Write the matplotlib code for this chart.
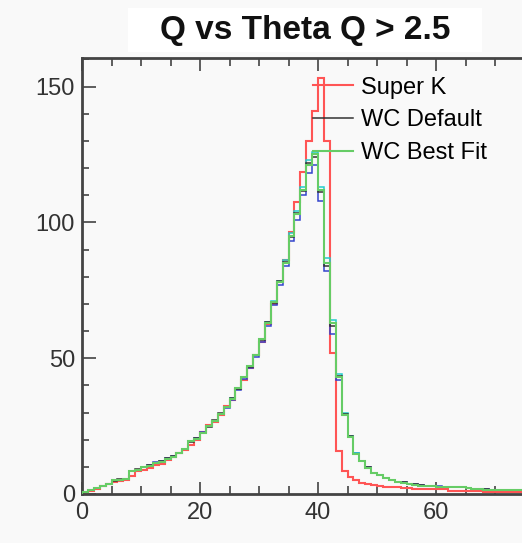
import numpy as np
import matplotlib.pyplot as plt
from matplotlib.patches import Rectangle
from matplotlib.ticker import MultipleLocator

plt.rcParams['font.family'] = ['Liberation Sans', 'DejaVu Sans']

# bin edges 0..80, width 1
edges = np.arange(0, 81, 1)

super_k = [0.5, 1.2, 2.0, 3.0, 3.8, 4.5, 4.8, 5.2, 6.5, 8.5,
           9.0, 9.5, 10.5, 11.0, 12.5, 13.5, 15.0, 16.2, 18.0, 20.0,
           23.0, 25.5, 26.5, 29.0, 32.5, 34.5, 38.5, 42.0, 46.5, 51.0,
           56.0, 62.5, 70.0, 78.0, 86.0, 96.5, 107.5, 118.5, 130.0, 141.0,
           153.0, 130.0, 52.0, 16.0, 8.6, 6.4, 5.2, 4.2, 3.6, 3.2,
           2.8, 2.7, 2.6, 2.5, 2.3, 2.1, 2.0, 2.0, 1.9, 1.9,
           1.8, 1.8, 1.2, 1.2, 1.2, 1.1, 1.1, 1.0, 0.8, 0.8,
           0.7, 0.7, 0.6, 0.6, 0.6, 0.5, 0.5, 0.5, 0.4, 0.4]

wc_best = [0.8, 1.5, 2.2, 2.8, 3.5, 5.0, 5.3, 5.6, 8.5, 9.0,
           9.8, 10.3, 11.3, 11.8, 13.0, 13.8, 15.0, 16.5, 19.5, 20.3,
           22.5, 25.0, 27.0, 29.5, 32.0, 35.0, 39.0, 43.0, 47.0, 51.0,
           57.0, 63.0, 70.5, 78.0, 85.0, 94.8, 103.0, 112.0, 121.0, 125.0,
           112.0, 85.0, 63.0, 43.0, 29.0, 21.0, 14.7, 12.0, 9.6, 7.7,
           7.0, 5.8, 5.2, 4.5, 4.2, 3.7, 3.4, 3.1, 2.9, 2.8,
           2.7, 2.6, 2.6, 2.5, 2.4, 2.1, 2.0, 1.9, 1.6, 1.5,
           1.5, 1.4, 1.4, 1.3, 1.3, 1.2, 1.2, 1.1, 1.1, 1.0]

wc_default = [0.7, 1.4, 2.3, 2.9, 3.6, 4.9, 5.4, 5.7, 8.3, 9.1,
              9.9, 10.6, 11.5, 12.0, 13.2, 13.9, 15.2, 16.4, 19.3, 20.5,
              22.6, 24.8, 27.2, 29.7, 32.2, 35.2, 38.8, 43.2, 46.8, 51.2,
              56.8, 63.2, 70.2, 78.3, 85.4, 94.5, 103.5, 111.5, 122.0, 124.0,
              111.0, 84.0, 62.0, 43.5, 29.5, 21.5, 14.9, 12.2, 9.8, 7.9,
              7.1, 6.0, 5.3, 4.6, 4.3, 3.8, 3.5, 3.2, 3.0, 2.8,
              2.7, 2.7, 2.6, 2.5, 2.4, 2.2, 2.0, 1.9, 1.7, 1.6,
              1.5, 1.5, 1.4, 1.3, 1.3, 1.2, 1.2, 1.2, 1.1, 1.0]

wc_blue = [0.8, 1.5, 2.2, 2.8, 3.6, 5.0, 5.3, 5.7, 8.4, 9.0,
           10.0, 10.6, 11.6, 12.2, 13.4, 14.0, 15.2, 16.6, 19.6, 20.6,
           22.8, 25.0, 27.0, 29.4, 31.8, 34.6, 38.4, 42.4, 46.4, 50.4,
           56.0, 62.0, 69.5, 77.0, 84.0, 93.0, 101.0, 110.0, 118.0, 121.0,
           108.0, 82.0, 59.0, 42.0, 29.0, 21.0, 15.0, 12.2, 9.8, 7.9,
           7.1, 5.9, 5.3, 4.6, 4.3, 3.8, 3.5, 3.2, 3.0, 2.9,
           2.8, 2.7, 2.6, 2.5, 2.4, 2.2, 2.0, 1.9, 1.7, 1.6,
           1.5, 1.5, 1.4, 1.4, 1.3, 1.3, 1.2, 1.2, 1.1, 1.1]

wc_cyan = [0.8, 1.5, 2.2, 2.8, 3.5, 5.0, 5.3, 5.6, 8.6, 9.0,
           9.8, 10.4, 11.3, 11.9, 13.0, 13.8, 15.0, 16.6, 19.6, 20.3,
           22.5, 25.0, 27.0, 29.6, 32.0, 35.4, 39.2, 43.2, 47.2, 51.2,
           57.2, 63.4, 71.0, 78.5, 86.0, 96.0, 104.0, 113.0, 123.0, 126.0,
           113.0, 87.0, 64.0, 44.0, 30.0, 21.2, 15.0, 12.1, 9.7, 7.8,
           7.0, 5.9, 5.2, 4.5, 4.2, 3.7, 3.4, 3.1, 2.9, 2.8,
           2.7, 2.6, 2.6, 2.5, 2.4, 2.1, 2.0, 1.9, 1.6, 1.5,
           1.5, 1.4, 1.4, 1.3, 1.3, 1.2, 1.2, 1.1, 1.1, 1.0]

x_ticks = [0, 20, 40, 60]
y_ticks = [0, 50, 100, 150]

W, H = 522, 543
fig = plt.figure(figsize=(W / 100, H / 100), dpi=100, facecolor='#f9f9f9')
# plot frame runs past the right edge of the picture
ax = fig.add_axes([82 / W, 49 / H, 472 / W, 436 / H])
ax.set_facecolor('#f9f9f9')

ax.stairs(super_k, edges, color='#ff5555', lw=1.5, label='Super K', zorder=2)
ax.stairs(wc_blue, edges, color='#3344cc', lw=1.1, zorder=3)
ax.stairs(wc_cyan, edges, color='#22cccc', lw=1.1, zorder=3)
ax.stairs(wc_default, edges, color='#333333', lw=1.1, label='WC Default', zorder=4)
ax.stairs(wc_best, edges, color='#66cc66', lw=1.5, label='WC Best Fit', zorder=5)

ax.set_xlim(0, 80)
ax.set_ylim(0, 160.5)
ax.set_xticks(x_ticks)
ax.set_yticks(y_ticks)
ax.xaxis.set_minor_locator(MultipleLocator(5))
ax.yaxis.set_minor_locator(MultipleLocator(10))
ax.tick_params(axis='both', which='both', direction='in', top=True, right=True,
               colors='#333333', labelsize=17, width=1.1)
ax.tick_params(axis='x', which='major', length=9, pad=6)
ax.tick_params(axis='x', which='minor', length=5.5)
ax.tick_params(axis='y', which='major', length=10, pad=5)
ax.tick_params(axis='y', which='minor', length=5)
for s in ax.spines.values():
    s.set_linewidth(2.0)
    s.set_color('#444444')

ax.legend(loc='upper left', bbox_to_anchor=((313 - 82) / 472, (494 - 76.5) / 436),
          frameon=False, fontsize=17, handlelength=1.7, handletextpad=0.35,
          labelspacing=0.46, borderpad=0, borderaxespad=0)

# title in a white box
fig.patches.append(Rectangle((128 / W, 1 - 52 / H), 354 / W, 44 / H,
                             transform=fig.transFigure, facecolor='white',
                             edgecolor='none', zorder=0))
fig.text(305 / W, 1 - 30 / H, 'Q vs Theta Q > 2.5', ha='center', va='center',
         fontsize=24, fontweight='bold', color='#111111')

fig.savefig('out.png', dpi=100, facecolor=fig.get_facecolor())
